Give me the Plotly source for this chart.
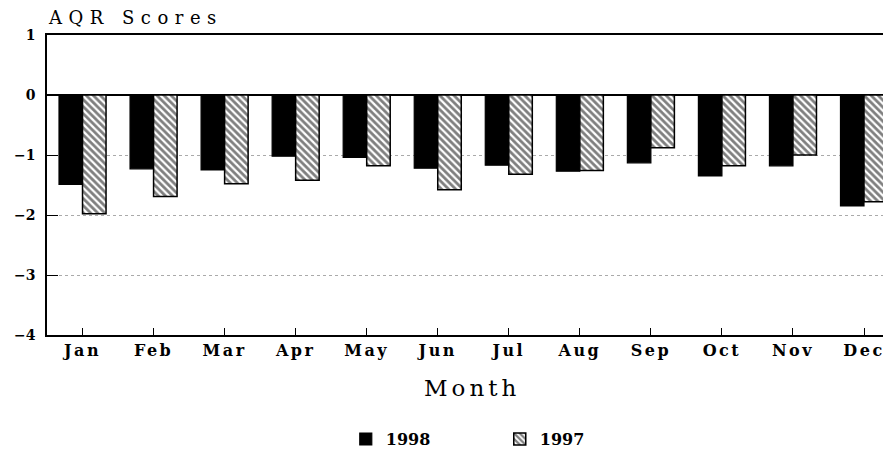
import plotly.graph_objects as go

months = ["Jan", "Feb", "Mar", "Apr", "May", "Jun", "Jul", "Aug", "Sep", "Oct", "Nov", "Dec"]
scores_1998 = [-1.49, -1.23, -1.25, -1.02, -1.04, -1.22, -1.17, -1.27, -1.13, -1.35, -1.18, -1.85]
scores_1997 = [-1.98, -1.69, -1.48, -1.42, -1.18, -1.58, -1.32, -1.26, -0.88, -1.18, -1.00, -1.78]
y_ticks = [1, 0, -1, -2, -3, -4]

SERIF = "DejaVu Serif"


def spaced(text, px):
    return f'<span style="letter-spacing:{px}px">{text}</span>'


fig = go.Figure()
fig.add_trace(go.Bar(
    x=months, y=scores_1998, name="1998",
    marker=dict(color="black", line=dict(color="black", width=1.2)),
))
fig.add_trace(go.Bar(
    x=months, y=scores_1997, name="1997",
    marker=dict(color="white", line=dict(color="black", width=1.5),
                pattern=dict(shape="\\", fgcolor="black", bgcolor="white",
                             size=5, solidity=0.55)),
))

# page body adds an 8px margin, so the figure is 883x446 and offsets are compensated
fig.update_layout(
    width=883, height=446,
    margin=dict(l=39, r=0, t=27, b=119, autoexpand=False),
    paper_bgcolor="white", plot_bgcolor="white",
    barmode="group", bargap=0.338, bargroupgap=0,
    font=dict(family=SERIF, color="black"),
    showlegend=True,
    legend=dict(orientation="h", x=0.354, xanchor="left", y=-0.347, yanchor="middle",
                font=dict(family=SERIF, size=16, weight="bold"),
                entrywidth=109, entrywidthmode="pixels", traceorder="normal"),
    xaxis=dict(
        type="category", range=[-0.5, 11.38], automargin=False,
        tickvals=months, ticktext=[spaced(m, 2.5) for m in months],
        showline=True, linecolor="black", linewidth=1.5, mirror=True,
        ticks="inside", ticklen=7, tickcolor="black", tickwidth=1.2,
        showgrid=False,
        tickfont=dict(family=SERIF, size=16, weight="bold"),
    ),
    yaxis=dict(
        range=[-4, 1], tickvals=y_ticks, automargin=False,
        showline=True, linecolor="black", linewidth=1.5,
        ticks="inside", ticklen=11, tickcolor="black", tickwidth=1.2,
        showgrid=True, gridcolor="#aaaaaa", griddash="dot", gridwidth=1,
        zeroline=True, zerolinecolor="black", zerolinewidth=1.8,
        tickfont=dict(family=SERIF, size=14, weight="bold"),
        ticklabelstandoff=7,
    ),
    annotations=[
        dict(text=spaced("AQR Scores", 6.5), xref="paper", yref="paper", x=-0.001, y=1.017,
             xanchor="left", yanchor="bottom", showarrow=False,
             font=dict(family=SERIF, size=18)),
        dict(text=spaced("Month", 4), xref="paper", yref="paper", x=0.504, y=-0.177,
             xanchor="center", yanchor="middle", showarrow=False,
             font=dict(family=SERIF, size=23)),
    ],
)

fig.write_html("out.html")
